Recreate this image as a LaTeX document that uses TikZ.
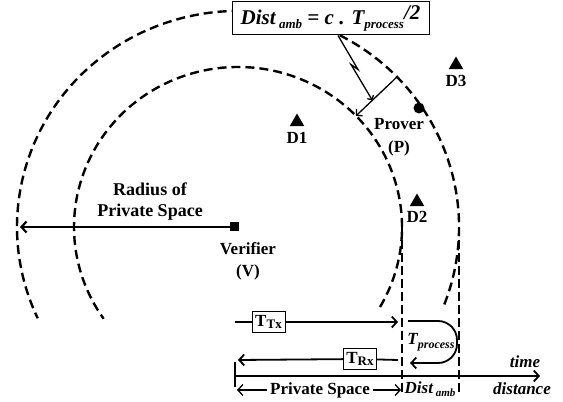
\documentclass[tikz,border=0pt]{standalone}
\usepackage{fontspec}
\setmainfont{Liberation Serif}
\usetikzlibrary{arrows.meta,positioning,calc,shapes.geometric}

\begin{document}
\begin{tikzpicture}[x=1pt, y=1pt,
  font=\fontsize{17}{21}\selectfont\bfseries, >={Straight Barb[length=5pt, width=11pt]},
  ring/.style={line width=2.4pt, dash pattern=on 9pt off 5pt},
  edge/.style={line width=1.3pt, dash pattern=on 9pt off 4pt},
  ln/.style={line width=1.8pt},
  thn/.style={line width=1.3pt},
  dev/.style={regular polygon, regular polygon sides=3, fill=black, inner sep=0pt, minimum size=17pt},
  tbox/.style={draw, line width=1pt, fill=white, minimum width=33pt, minimum height=21pt, inner sep=1pt},
  lbl/.style={font=\fontsize{17}{21}\selectfont\bfseries\itshape}]
\useasboundingbox (0,0) rectangle (563,402);
\coordinate (c) at (238,175);
\draw[ring] (c) ++(-30:164 and 160) arc[start angle=-30, end angle=215, x radius=164, y radius=160];
\draw[ring] (c) ++(-21:221 and 216) arc[start angle=-21, end angle=205, x radius=221, y radius=216];
\coordinate (pin) at ($(c)+(164,0)$);
\coordinate (pout) at ($(c)+(221,0)$);
\coordinate (base) at (0,9);
\draw[edge] (pin) -- (pin |- base);
\draw[edge] (pout) -- (pout |- base);

\node[fill=black, minimum size=9pt, inner sep=0pt] (ver) at (234,175) {};
\coordinate (rad) at (20,175);
\draw[ln, line width=2.2pt, ->] (ver.center) -- (rad);
\node[align=center, font=\fontsize{18}{21}\selectfont\bfseries] (radl) at (150,200) {Radius of\\Private Space};
\node[align=center, font=\fontsize{17}{22}\selectfont\bfseries] (verl) at (248,141) {Verifier\\(V)};

\node[circle, fill=black, minimum size=11pt, inner sep=0pt] (prv) at (419,294) {};
\node[align=center, font=\fontsize{17}{23}\selectfont\bfseries] (prvl) at (399,265) {Prover\\(P)};

\node[dev] (d1) at (297,280) {};
\node[below=2pt of d1] (d1l) {D1};
\node[dev] (d2) at (417,200) {};
\node[below=1pt of d2] (d2l) {D2};
\node[dev] (d3) at (456,337) {};
\node[below=2pt of d3] (d3l) {D3};

\coordinate (mo) at ($(c)+(44:221 and 216)$);
\coordinate (mi) at ($(c)+(44:164 and 160)$);
\draw[thn, ->, >={Straight Barb[length=4pt, width=9pt]}] (mo) -- (mi);

\node[draw, line width=1pt, fill=white, minimum width=197pt, minimum height=33pt, inner sep=2pt,
      font=\fontsize{21}{24}\selectfont\bfseries\itshape] (amb) at (330.5,383.5)
  {Dist\,\raisebox{-0.4ex}{\fontsize{13}{13}\selectfont amb} = c . T\raisebox{-0.4ex}{\fontsize{13}{13}\selectfont process}\raisebox{0.45ex}{/2}};
\draw[thn, ->, >={Straight Barb[length=3pt, width=7pt]}] ($(amb.south)+(7.5,0)$) -- ++(20,-34) -- ++(-7,5) -- ($(mi)!0.4!(mo)$);

\coordinate (t0) at (235,80);
\coordinate (t1) at (398,80);
\node[tbox] (ttx) at (268.5,80) {T\raisebox{-0.35ex}{\fontsize{13}{13}\selectfont Tx}};
\draw[ln, ->] (t0) -- (ttx) -- (t1);
\coordinate (r0) at (398,42);
\coordinate (r1) at (238,42);
\node[tbox] (trx) at (360,43) {T\raisebox{-0.35ex}{\fontsize{13}{13}\selectfont Rx}};
\draw[ln, ->] (r0) -- (trx) -- (r1);

\coordinate (p0) at (408,81);
\coordinate (p1) at (410,39);
\coordinate (pr) at (457,60);
\draw[ln, ->, rounded corners=19pt] (p0) -- (p0 -| pr) -- (p1 -| pr) -- (p1);
\node[lbl] (tproc) at (431,60) {T\raisebox{-0.5ex}{\fontsize{12}{12}\selectfont process}};

\coordinate (a0) at (235,26);
\coordinate (a1) at (540,26);
\coordinate (k0) at (235,40);
\coordinate (k1) at (235,15);
\draw[ln, ->] (a0) -- (a1);
\draw[ln] (k0) -- (k1);
\node[lbl] (tim) at (525,40) {time};
\node[lbl] (dst) at (522,13) {distance};

\node (ps) at (320,12) {Private Space};
\coordinate (s0) at (237,12);
\coordinate (s1) at (401,12);
\draw[thn, ->] (ps) -- (s0);
\draw[thn, ->] (ps) -- (s1);
\node[lbl] (da) at (430,13) {Dist\,\raisebox{-0.4ex}{\fontsize{11}{11}\selectfont amb}};
\end{tikzpicture}
\end{document}
